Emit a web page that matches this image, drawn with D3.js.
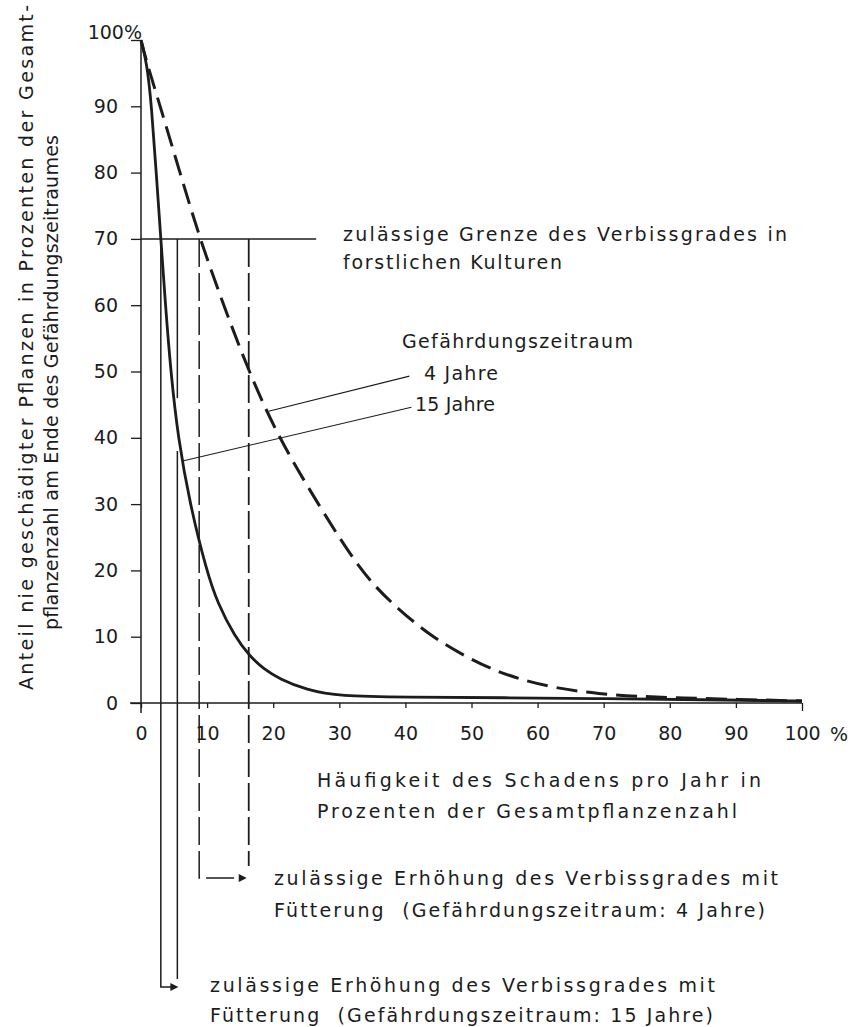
<!DOCTYPE html>
<html>
<head>
<meta charset="utf-8">
<script src="https://cdn.jsdelivr.net/npm/d3@7"></script>
<style>
  body { margin: 0; background: #fff; }
  svg { display: block; }
  text { font-family: "DejaVu Sans", sans-serif; fill: #1c1c1c; }
</style>
</head>
<body>
<svg width="856" height="1027"></svg>
<script>
// values, all in percent
const xTicks = [0, 10, 20, 30, 40, 50, 60, 70, 80, 90, 100];
const yTicks = [0, 10, 20, 30, 40, 50, 60, 70, 80, 90, 100];

// Gefährdungszeitraum 15 Jahre (solid)
const curve15 = [
  [0, 100], [0.9, 96.5], [1.6, 90], [2.3, 80], [3.0, 70], [3.7, 60],
  [4.5, 50], [5.6, 40], [7.4, 30], [9.9, 20], [11.6, 15], [14.2, 10],
  [16.5, 7], [18.5, 5.2], [21, 3.6], [25, 2.0], [30, 1.0], [40, 0.9],
  [55, 0.8], [70, 0.65], [85, 0.5], [100, 0.3],
];

// Gefährdungszeitraum 4 Jahre (dashed)
const curve4 = [
  [0, 100], [0.9, 96.5], [2.9, 90], [5.9, 80], [8.9, 70], [12.5, 60],
  [16.3, 50], [20.8, 40], [26.8, 30], [33.1, 20], [37.9, 15], [43.9, 10],
  [49.5, 6.8], [53.3, 5], [57.5, 3.5], [63, 2.2], [69, 1.4], [75, 1.0],
  [82, 0.75], [90, 0.55], [100, 0.3],
];

const limit = 70;        // zulässige Grenze
const limitEnd = 26.5;   // where the limit line stops
const drop15 = [3.0, 5.5];
const drop4 = [8.8, 16.3];
const gap15 = [46, 38];  // right solid drop line is broken where the curve passes

// leader lines: [from curve point, to label]
const leader4 = [[19.3, 44], [40.6, 49.3]];
const leader15 = [[6.3, 36.5], [40.9, 44.6]];

const svg = d3.select("svg");

const x = d3.scaleLinear().domain([0, 100]).range([141, 802]);
const y = d3.scaleLinear().domain([0, 100]).range([703, 40]);

const ink = "#1c1c1c";

// AXES
const yAxis = d3
  .axisLeft(y)
  .tickValues(yTicks)
  .tickSize(10)
  .tickPadding(13)
  .tickFormat((d) => (d === 100 ? "100%" : d));

const yg = svg
  .append("g")
  .attr("transform", `translate(${x(0)},0)`)
  .call(yAxis);
yg.select(".domain").remove();
yg.selectAll("line").attr("stroke", ink).attr("stroke-width", 1.3);
yg.selectAll("text")
  .attr("font-size", 19)
  .attr("font-family", "DejaVu Sans")
  .attr("fill", ink);
yg.selectAll(".tick")
  .filter((d) => d === 100)
  .select("text")
  .attr("x", 1)
  .attr("y", -2)
  .attr("dy", 0);

const xAxis = d3
  .axisBottom(x)
  .tickValues(xTicks)
  .tickSize(5)
  .tickPadding(19);

const xg = svg
  .append("g")
  .attr("transform", `translate(0,${y(0)})`)
  .call(xAxis);
xg.select(".domain").remove();
xg.selectAll("line").attr("stroke", ink).attr("stroke-width", 1.3);
xg.selectAll(".tick")
  .filter((d) => d === 100)
  .select("line")
  .attr("y2", 8);
xg.selectAll("text")
  .attr("font-size", 19)
  .attr("font-family", "DejaVu Sans")
  .attr("fill", ink);

svg
  .append("text")
  .attr("x", x(100) + 28)
  .attr("y", y(0) + 38)
  .attr("font-size", 19)
  .text("%");

// axis lines
svg
  .append("line")
  .attr("x1", x(0))
  .attr("x2", x(0))
  .attr("y1", y(100))
  .attr("y2", y(0) + 10)
  .attr("stroke", ink)
  .attr("stroke-width", 1.5);

svg
  .append("line")
  .attr("x1", x(0) - 11)
  .attr("x2", x(100))
  .attr("y1", y(0))
  .attr("y2", y(0))
  .attr("stroke", ink)
  .attr("stroke-width", 1.5);

// limit line at 70 %
svg
  .append("line")
  .attr("x1", x(0))
  .attr("x2", x(limitEnd))
  .attr("y1", y(limit))
  .attr("y2", y(limit))
  .attr("stroke", ink)
  .attr("stroke-width", 1.5);

// DROP LINES + ARROWS
const arrow15Y = 987;
const arrow4Y = 878;

function arrowHead(tipX, tipY) {
  return `M${tipX},${tipY} L${tipX - 8},${tipY - 4} L${tipX - 8},${tipY + 4} Z`;
}

// 15 Jahre (solid)
svg
  .append("path")
  .attr(
    "d",
    `M${x(drop15[0])},${y(limit)} V${arrow15Y} H${x(drop15[1]) - 6}`
  )
  .attr("fill", "none")
  .attr("stroke", ink)
  .attr("stroke-width", 1.5);
svg
  .append("path")
  .attr("d", arrowHead(x(drop15[1]) + 1, arrow15Y))
  .attr("fill", ink);
svg
  .append("path")
  .attr(
    "d",
    `M${x(drop15[1])},${y(limit)} V${y(gap15[0])} M${x(drop15[1])},${y(gap15[1])} V${arrow15Y - 8}`
  )
  .attr("fill", "none")
  .attr("stroke", ink)
  .attr("stroke-width", 1.5);

// 4 Jahre (dashed)
svg
  .append("path")
  .attr(
    "d",
    `M${x(drop4[0])},${y(limit)} V${arrow4Y} H${x(drop4[1]) - 6}`
  )
  .attr("fill", "none")
  .attr("stroke", ink)
  .attr("stroke-width", 1.5)
  .attr("stroke-dasharray", "28,6");
svg
  .append("path")
  .attr("d", arrowHead(x(drop4[1]) - 2, arrow4Y))
  .attr("fill", ink);
svg
  .append("path")
  .attr("d", `M${x(drop4[1])},${y(limit)} V${arrow4Y - 12}`)
  .attr("fill", "none")
  .attr("stroke", ink)
  .attr("stroke-width", 1.8)
  .attr("stroke-dasharray", "28,6");

// CURVES
const line = d3
  .line()
  .x((d) => x(d[0]))
  .y((d) => y(d[1]))
  .curve(d3.curveBasis);

svg
  .append("path")
  .datum(curve4)
  .attr("d", line)
  .attr("fill", "none")
  .attr("stroke", ink)
  .attr("stroke-width", 3)
  .attr("stroke-dasharray", "21,9");

svg
  .append("path")
  .datum(curve15)
  .attr("d", line)
  .attr("fill", "none")
  .attr("stroke", ink)
  .attr("stroke-width", 2.8);

// leaders
[leader4, leader15].forEach((l) => {
  svg
    .append("line")
    .attr("x1", x(l[0][0]))
    .attr("y1", y(l[0][1]))
    .attr("x2", x(l[1][0]))
    .attr("y2", y(l[1][1]))
    .attr("stroke", ink)
    .attr("stroke-width", 1.1);
});

// TEXTS  [text, x, y, width]
const labels = [
  ["zulässige Grenze des Verbissgrades in", 343, 241, 444],
  ["forstlichen Kulturen", 343, 269, 219],
  ["Gefährdungszeitraum", 402, 348, 231],
  ["4 Jahre", 424, 380, 74],
  ["15 Jahre", 415, 411, 80],
  ["Häufigkeit des Schadens pro Jahr in", 317, 787, 444],
  ["Prozenten der Gesamtpflanzenzahl", 317, 818, 420],
  ["zulässige Erhöhung des Verbissgrades mit", 274, 885, 504],
  ["Fütterung  (Gefährdungszeitraum: 4 Jahre)", 274, 917, 491],
  ["zulässige Erhöhung des Verbissgrades mit", 210, 992, 505],
  ["Fütterung  (Gefährdungszeitraum: 15 Jahre)", 210, 1022, 503],
];

svg
  .append("g")
  .selectAll("text")
  .data(labels)
  .join("text")
  .attr("x", (d) => d[1])
  .attr("y", (d) => d[2])
  .attr("font-size", 19)
  .attr("textLength", (d) => d[3])
  .attr("lengthAdjust", "spacing")
  .style("white-space", "pre")
  .text((d) => d[0]);

// y axis title, two lines
const yTitle = [
  ["Anteil nie geschädigter Pflanzen in Prozenten der Gesamt-", 33, 690, 685],
  ["pflanzenzahl am Ende des Gefährdungszeitraumes", 58, 630, 495],
];
svg
  .append("g")
  .selectAll("text")
  .data(yTitle)
  .join("text")
  .attr("transform", (d) => `translate(${d[1]},${d[2]}) rotate(-90)`)
  .attr("font-size", 19)
  .attr("textLength", (d) => d[3])
  .attr("lengthAdjust", "spacing")
  .text((d) => d[0]);
</script>
</body>
</html>
